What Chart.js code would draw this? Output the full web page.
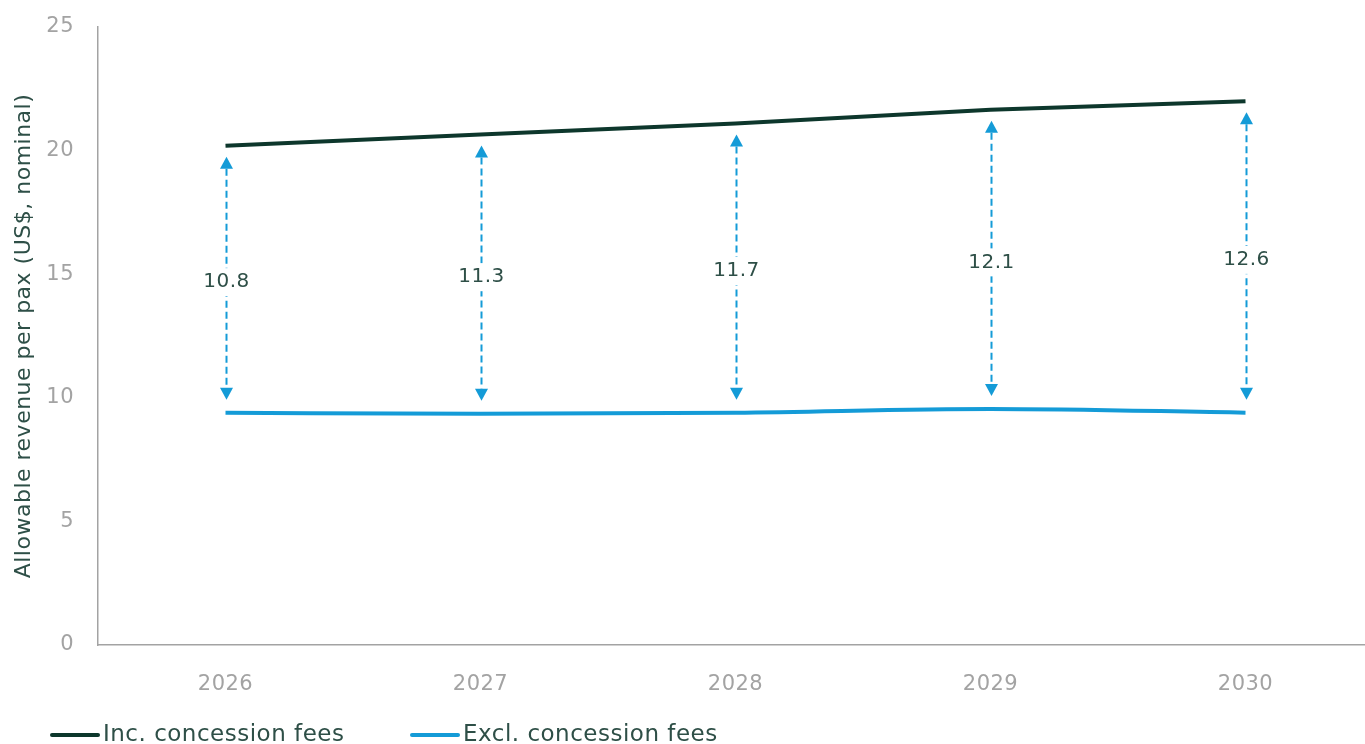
<!DOCTYPE html>
<html>
<head>
<meta charset="utf-8">
<script src="https://cdn.jsdelivr.net/npm/chart.js@4/dist/chart.umd.min.js"></script>
<style>
  html, body { margin: 0; padding: 0; background: #ffffff; overflow: hidden; }
  #wrap { width: 1373px; height: 744px; position: relative; }
</style>
</head>
<body>
<div id="wrap"><canvas id="chart"></canvas></div>
<script>
// Allowable revenue per passenger, nominal US$
const years = ['2026', '2027', '2028', '2029', '2030'];
const excludingFees = [9.4, 9.35, 9.4, 9.55, 9.4];
const concessionGap = [10.8, 11.3, 11.7, 12.1, 12.6];
const includingFees = [20.2, 20.65, 21.1, 21.65, 22.0];
const yTicks = [0, 5, 10, 15, 20, 25];
const seriesNames = ['Inc. concession fees', 'Excl. concession fees'];

const FONT = "'DejaVu Sans', sans-serif";
const DARK = '#0d372c';
const BLUE = '#149bd7';
const TEXT = '#2e4f47';
const GREY = '#a3a3a3';

// Slightly open tracking for all canvas text
const tracking = {
  id: 'tracking',
  beforeDraw(chart) { chart.ctx.letterSpacing = '0.5px'; }
};

// Dashed double-headed arrows showing the gap between the two series
const gapArrows = {
  id: 'gapArrows',
  afterDatasetsDraw(chart) {
    const { ctx, scales: { x, y } } = chart;
    ctx.save();
    concessionGap.forEach((gap, i) => {
      const px = Math.round(x.getPixelForValue(i)) + 0.5;
      const yBottom = y.getPixelForValue(excludingFees[i]) - 13;
      const yTop = y.getPixelForValue(excludingFees[i] + gap) + 11;
      const head = 12, half = 6.5;
      ctx.strokeStyle = BLUE;
      ctx.lineWidth = 2;
      ctx.setLineDash([7, 4]);
      ctx.beginPath();
      ctx.moveTo(px, yTop + head);
      ctx.lineTo(px, yBottom - head);
      ctx.stroke();
      ctx.setLineDash([]);
      ctx.fillStyle = BLUE;
      ctx.beginPath();
      ctx.moveTo(px, yTop);
      ctx.lineTo(px - half, yTop + head);
      ctx.lineTo(px + half, yTop + head);
      ctx.closePath();
      ctx.fill();
      ctx.beginPath();
      ctx.moveTo(px, yBottom);
      ctx.lineTo(px - half, yBottom - head);
      ctx.lineTo(px + half, yBottom - head);
      ctx.closePath();
      ctx.fill();
      // value label on a white patch
      const label = gap.toFixed(1);
      const my = (yTop + yBottom) / 2 + 4;
      ctx.font = '20px ' + FONT;
      const w = ctx.measureText(label).width;
      ctx.fillStyle = '#ffffff';
      ctx.fillRect(px - w / 2 - 3, my - 14, w + 6, 28);
      ctx.fillStyle = TEXT;
      ctx.textAlign = 'center';
      ctx.textBaseline = 'middle';
      ctx.fillText(label, px, my);
    });
    ctx.restore();
  }
};

// Legend drawn along the bottom-left with short thick line markers
const bottomLegend = {
  id: 'bottomLegend',
  afterDraw(chart) {
    const { ctx } = chart;
    const starts = [50, 410];
    const yMid = 735;
    ctx.save();
    chart.data.datasets.forEach((ds, i) => {
      const x0 = starts[i];
      ctx.strokeStyle = ds.borderColor;
      ctx.lineWidth = 4;
      ctx.lineCap = 'round';
      ctx.beginPath();
      ctx.moveTo(x0 + 2, yMid);
      ctx.lineTo(x0 + 48, yMid);
      ctx.stroke();
      ctx.font = '23px ' + FONT;
      ctx.fillStyle = TEXT;
      ctx.textAlign = 'left';
      ctx.textBaseline = 'middle';
      ctx.fillText(ds.label, x0 + 53, yMid);
    });
    ctx.restore();
  }
};

new Chart(document.getElementById('chart'), {
  type: 'line',
  data: {
    labels: years,
    datasets: [
      { label: seriesNames[0], data: includingFees, borderColor: DARK, backgroundColor: DARK,
        borderWidth: 4, pointRadius: 0, tension: 0, borderCapStyle: 'butt' },
      { label: seriesNames[1], data: excludingFees, borderColor: BLUE, backgroundColor: BLUE,
        borderWidth: 4, pointRadius: 0, tension: 0.25, cubicInterpolationMode: 'monotone', borderCapStyle: 'butt' }
    ]
  },
  options: {
    responsive: true,
    maintainAspectRatio: false,
    animation: false,
    layout: { padding: { top: 27, right: 0, bottom: 39, left: 0 } },
    plugins: { legend: { display: false }, tooltip: { enabled: false } },
    scales: {
      x: {
        offset: true,
        grid: { display: false, drawTicks: false },
        border: { display: true, color: GREY, width: 1.5 },
        ticks: { color: GREY, font: { family: FONT, size: 21 }, padding: 27 },
        afterFit(scale) { scale.height = 60; }
      },
      y: {
        min: 0, max: 25,
        afterBuildTicks(scale) { scale.ticks = yTicks.map(v => ({ value: v })); },
        grid: { display: false, drawTicks: false },
        border: { display: true, color: GREY, width: 1.5 },
        ticks: { color: GREY, font: { family: FONT, size: 21 }, padding: 24 },
        title: { display: true, text: 'Allowable revenue per pax (US$, nominal)', color: TEXT,
                 font: { family: FONT, size: 22 }, padding: { top: 11, bottom: 0 } },
        afterFit(scale) {
          scale.width = 98;
          scale.paddingTop = 0;
          scale.paddingBottom = 0;
        }
      }
    }
  },
  plugins: [tracking, gapArrows, bottomLegend]
});
</script>
</body>
</html>
